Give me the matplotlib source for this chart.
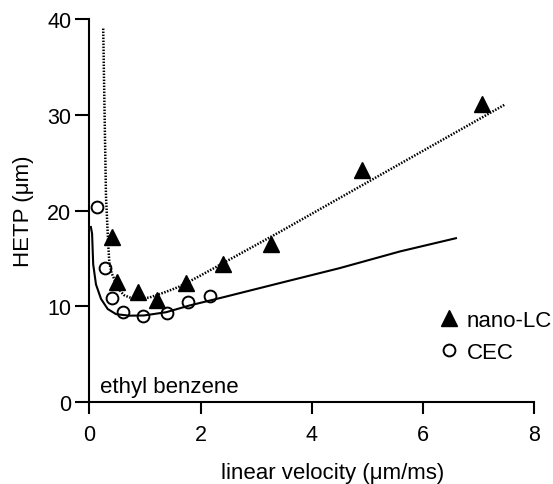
import matplotlib
matplotlib.use("Agg")
import matplotlib.pyplot as plt
from matplotlib.lines import Line2D

plt.rcParams['font.family'] = ['Liberation Sans', 'DejaVu Sans']

# measured points
nano_lc_u = [0.40, 0.50, 0.88, 1.21, 1.74, 2.41, 3.27, 4.91, 7.06]
nano_lc_h = [17.2, 12.6, 11.5, 10.7, 12.5, 14.4, 16.5, 24.2, 31.1]
cec_u = [0.13, 0.28, 0.40, 0.61, 0.96, 1.40, 1.78, 2.17]
cec_h = [20.35, 14.0, 10.85, 9.4, 9.05, 9.3, 10.5, 11.1]

# fitted curves
nano_fit_u = [0.25, 0.275, 0.30, 0.32, 0.34, 0.36, 0.40, 0.46, 0.53, 0.62, 0.72,
              0.99, 1.09, 1.39, 1.63, 1.99, 3.43, 5.59, 7.48]
nano_fit_h = [39.0, 30.0, 21.5, 19.0, 16.5, 14.6, 13.5, 12.7, 11.8, 11.2, 10.95,
              10.85, 10.95, 11.55, 12.1, 13.2, 17.8, 24.9, 31.1]
cec_fit_u = [0.025, 0.05, 0.07, 0.12, 0.21, 0.33, 0.48, 0.72, 0.98, 1.38, 1.80,
             2.40, 3.43, 4.50, 5.59, 6.61]
cec_fit_h = [18.4, 17.6, 14.4, 12.3, 10.8, 9.74, 9.2, 9.04, 9.06, 9.4, 10.1,
             10.95, 12.45, 14.0, 15.75, 17.15]

x_ticks = [0, 2, 4, 6, 8]
y_ticks = [0, 10, 20, 30, 40]

fig = plt.figure(figsize=(5.53, 4.85), dpi=100)
ax = fig.add_axes([89.3 / 553, 1 - 403.3 / 485, (534.3 - 89.3) / 553, (403.3 - 20) / 485])

ax.plot(cec_fit_u, cec_fit_h, color='black', lw=1.5, solid_capstyle='butt', zorder=2)
ax.plot(nano_fit_u, nano_fit_h, color='black', lw=1.8, linestyle=(0, (0.6, 0.6)), zorder=2)
ax.plot(nano_lc_u, nano_lc_h, linestyle='none', marker='^', markersize=11,
        color='black', zorder=3)
ax.plot(cec_u, cec_h, linestyle='none', marker='o', markersize=8.5,
        markerfacecolor='none', markeredgecolor='black', markeredgewidth=1.4, zorder=3)

ax.set_xlim(0, 8)
ax.set_ylim(0, 40)
ax.set_xticks(x_ticks)
ax.set_yticks(y_ticks)
ax.spines['top'].set_visible(False)
ax.spines['right'].set_visible(False)
for s in ('left', 'bottom'):
    ax.spines[s].set_linewidth(1.5)
ax.tick_params(axis='both', direction='out', width=1.5, labelsize=15.5)
ax.tick_params(axis='y', length=10, pad=3)
ax.tick_params(axis='x', length=8.5, pad=7)

ax.set_xlabel('linear velocity (\u03bcm/ms)', fontsize=16, va='center')
ax.set_ylabel('HETP (\u03bcm)', fontsize=16, va='center')
ax.xaxis.set_label_coords(0.546, -0.183)
ax.yaxis.set_label_coords(-0.147, 0.5)

ax.text(0.19, 1.6, 'ethyl benzene', fontsize=16, ha='left', va='center')

handles = [
    Line2D([], [], linestyle='none', marker='^', markersize=11, color='black'),
    Line2D([], [], linestyle='none', marker='o', markersize=8.5, markerfacecolor='none',
           markeredgecolor='black', markeredgewidth=1.4),
]
leg = fig.legend(handles, ['nano-LC', 'CEC'], loc='upper left',
                 bbox_to_anchor=(438 / 553, 1 - 311 / 485), frameon=False,
                 fontsize=16, handlelength=1.0, handletextpad=0.3,
                 labelspacing=0.5, borderpad=0, borderaxespad=0)

fig.savefig('out.png', dpi=100)
